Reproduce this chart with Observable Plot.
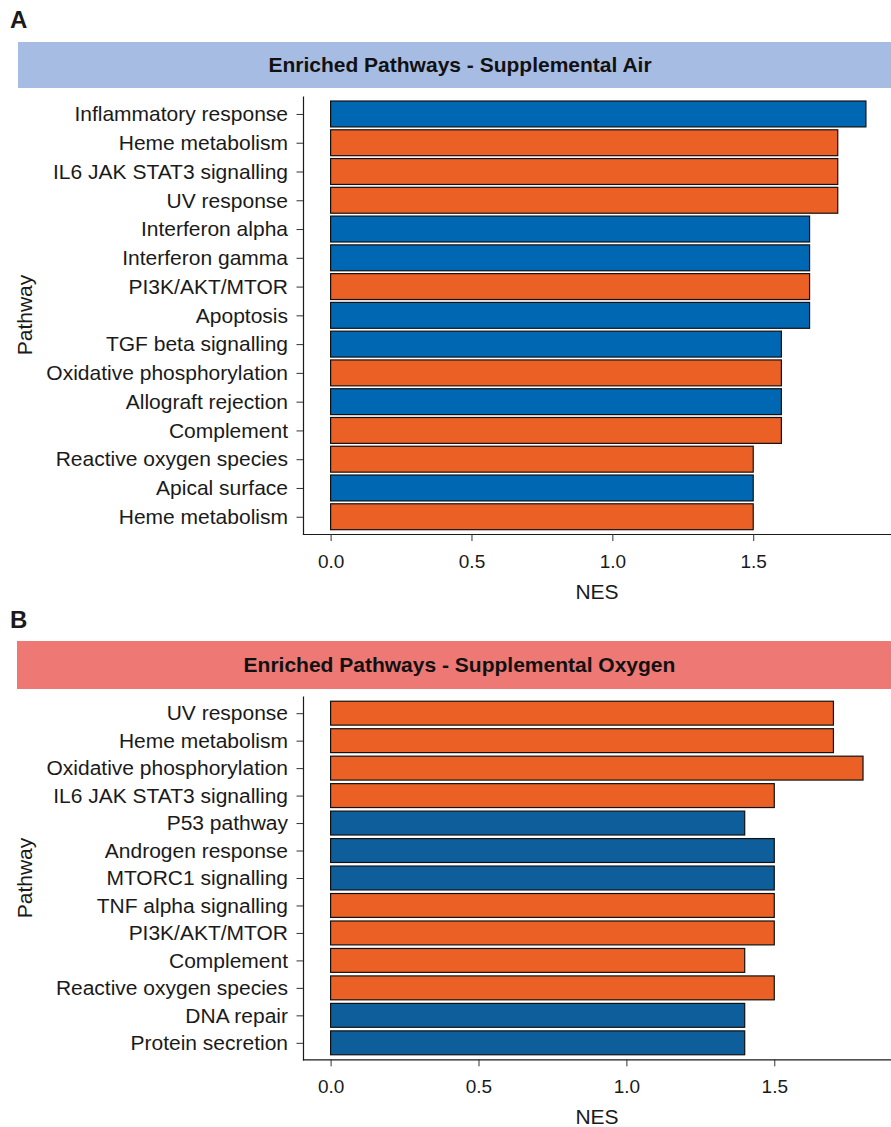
<!DOCTYPE html>
<html>
<head>
<meta charset="utf-8">
<script src="https://cdn.jsdelivr.net/npm/d3@7"></script>
<script src="https://cdn.jsdelivr.net/npm/@observablehq/plot@0.6"></script>
<style>
  html, body { margin: 0; padding: 0; background: #fff; }
  body { width: 891px; height: 1127px; position: relative; overflow: hidden;
         font-family: "Liberation Sans", Arial, Helvetica, sans-serif; color: #1a1a1a; }
  .abs { position: absolute; }
  .panelLetter { font-weight: bold; font-size: 24px; line-height: 1; }
  .band { display: flex; align-items: center; justify-content: center; box-sizing: border-box;
          font-weight: bold; font-size: 21px; color: #111; }
  .axtitle { font-size: 21px; line-height: 1; white-space: nowrap; }
  .ylab { transform-origin: 0 0; transform: rotate(-90deg); }
</style>
</head>
<body>
<script>
// ---------- Data ----------
const airPathways = ["Inflammatory response","Heme metabolism","IL6 JAK STAT3 signalling","UV response",
  "Interferon alpha","Interferon gamma","PI3K/AKT/MTOR","Apoptosis","TGF beta signalling",
  "Oxidative phosphorylation","Allograft rejection","Complement","Reactive oxygen species",
  "Apical surface","Heme metabolism"];
const airNES = [1.9,1.8,1.8,1.8,1.7,1.7,1.7,1.7,1.6,1.6,1.6,1.6,1.5,1.5,1.5];
const airGroup = ["G1","G2","G2","G2","G1","G1","G2","G1","G1","G2","G1","G2","G2","G1","G2"];

const oxyPathways = ["UV response","Heme metabolism","Oxidative phosphorylation","IL6 JAK STAT3 signalling",
  "P53 pathway","Androgen response","MTORC1 signalling","TNF alpha signalling","PI3K/AKT/MTOR",
  "Complement","Reactive oxygen species","DNA repair","Protein secretion"];
const oxyNES = [1.7,1.7,1.8,1.5,1.4,1.5,1.5,1.5,1.5,1.4,1.5,1.4,1.4];
const oxyGroup = ["G2","G2","G2","G2","G1","G1","G1","G2","G2","G2","G2","G1","G1"];

const xTicks = [0, 0.5, 1.0, 1.5];
const panelTitles = ["Enriched Pathways - Supplemental Air", "Enriched Pathways - Supplemental Oxygen"];
const panelLetters = ["A", "B"];
const xLabel = "NES";
const yLabel = "Pathway";

// ---------- Drawing ----------
const FONT = '"Liberation Sans", Arial, Helvetica, sans-serif';

function addDiv(cls, text, style) {
  const d = document.createElement("div");
  d.className = cls;
  d.textContent = text;
  Object.assign(d.style, style);
  document.body.appendChild(d);
  return d;
}

function makePanel(o) {
  const rows = o.pathways.map((p, i) => ({idx: i, pathway: p, nes: o.nes[i], group: o.group[i]}));
  const mt = 6.7, mb = 70;
  const chart = Plot.plot({
    width: 891,
    height: mt + o.plotH + mb,
    marginTop: mt,
    marginBottom: mb,
    marginLeft: 303,
    marginRight: 0,
    style: {fontFamily: FONT, fontSize: "21px", color: "#1a1a1a", background: "transparent", overflow: "visible"},
    x: {domain: o.xDomain},
    y: {domain: rows.map(d => d.idx), paddingInner: o.padIn, paddingOuter: o.padOut, round: false},
    color: {domain: ["G1", "G2"], range: [o.blue, "#EB6024"]},
    marks: [
      Plot.barX(rows, {x: "nes", y: "idx", fill: "group", stroke: "#111", strokeWidth: 1.2}),
      Plot.frame({anchor: "left", stroke: "#1a1a1a", strokeWidth: 1.2}),
      Plot.frame({anchor: "bottom", stroke: "#1a1a1a", strokeWidth: 1.2}),
      Plot.axisY({tickSize: 6.5, tickPadding: 9, fontSize: 21, label: null,
                  tickFormat: i => o.pathways[i], stroke: "#333"}),
      Plot.axisX({ticks: xTicks, tickSize: 7, tickPadding: 13, fontSize: 19, label: null,
                  tickFormat: d => d.toFixed(1), stroke: "#333"})
    ]
  });
  chart.style.position = "absolute";
  chart.style.left = "0px";
  chart.style.top = (o.plotTop - mt) + "px";
  document.body.appendChild(chart);

  // panel letter
  addDiv("abs panelLetter", o.letter, {left: "10px", top: (o.letterTop) + "px"});
  // title band
  addDiv("abs band", o.title, {left: o.bandLeft + "px", top: o.bandTop + "px",
    width: (891 - o.bandLeft) + "px", height: o.bandH + "px", background: o.bandColor,
    paddingLeft: "11px"});
  // x axis title
  const xt = addDiv("abs axtitle", xLabel, {left: "597px", top: (o.plotTop + o.plotH + 47) + "px"});
  xt.style.transform = "translateX(-50%)";
  // y axis title
  const yt = addDiv("abs axtitle ylab", yLabel, {left: "14px", top: (o.plotTop + o.plotH / 2) + "px"});
  yt.style.transform = "rotate(-90deg) translateX(-50%)";
}

makePanel({
  pathways: airPathways, nes: airNES, group: airGroup,
  xDomain: [-0.098, 1.989], plotTop: 96.7, plotH: 437.3,
  padIn: 0.1, padOut: 0.15, blue: "#0067B3",
  letter: panelLetters[0], letterTop: 8, title: panelTitles[0],
  bandLeft: 18, bandTop: 41.5, bandH: 46, bandColor: "#A7BCE2"
});

makePanel({
  pathways: oxyPathways, nes: oxyNES, group: oxyGroup,
  xDomain: [-0.0933, 1.8946], plotTop: 696.7, plotH: 362.6,
  padIn: 0.13, padOut: 0.165, blue: "#0F5E9C",
  letter: panelLetters[1], letterTop: 608, title: panelTitles[1],
  bandLeft: 17, bandTop: 641, bandH: 47.5, bandColor: "#EE7873"
});
</script>
</body>
</html>
